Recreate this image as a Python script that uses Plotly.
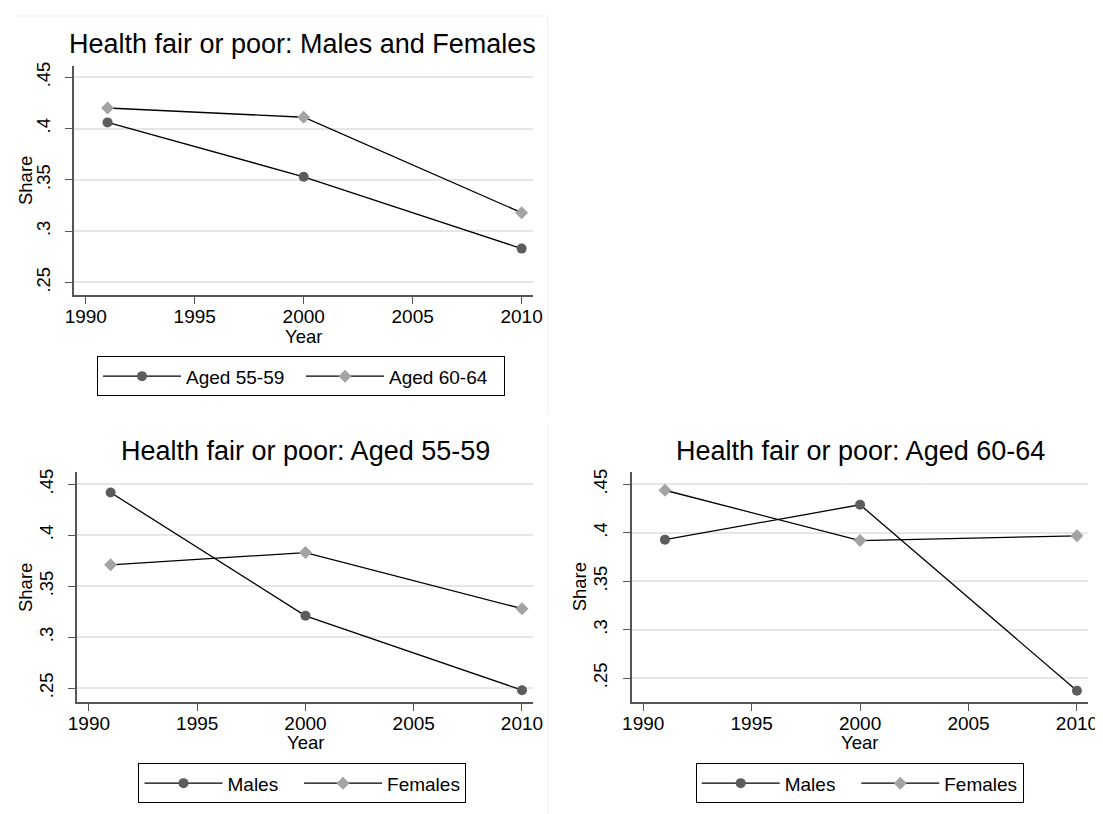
"""Health fair or poor: three-panel combined line chart."""

import plotly.graph_objects as go

YEARS = [1991, 2000, 2010]

# top panel: males and females together, by age group
ALL_AGED_55_59 = [0.406, 0.353, 0.283]
ALL_AGED_60_64 = [0.420, 0.411, 0.318]

# bottom-left panel: aged 55-59, by sex
AGED_55_59_MALES = [0.442, 0.321, 0.248]
AGED_55_59_FEMALES = [0.371, 0.383, 0.328]

# bottom-right panel: aged 60-64, by sex
AGED_60_64_MALES = [0.393, 0.429, 0.237]
AGED_60_64_FEMALES = [0.444, 0.392, 0.397]

X_TICKS = [1990, 1995, 2000, 2005, 2010]
Y_TICKS = [0.25, 0.30, 0.35, 0.40, 0.45]
Y_TICK_LABELS = [".25", ".3", ".35", ".4", ".45"]

W, H = 1103, 814
PAGE_PAD = 8  # the page body adds 8px around the figure
FONT = "Arial, Liberation Sans, sans-serif"
DARK = "#5c5c5c"
LIGHT = "#a3a3a3"
AXIS = "#555555"
GRID = "#e6e6e6"
NBSP = "\u00a0"


def px(x):
    return (x - PAGE_PAD) / W


def py(y):
    return 1 - (y - PAGE_PAD) / H


panels = [
    dict(
        ax="", title="Health fair or poor: Males and Females", legend="legend", entry=110,
        xdom=(66, 533), ydom=(62, 292.5), yrange=(0.2377, 0.4612),
        title_xy=(299, 40.5), share_xy=(16, 177), year_xy=(300, 334), legend_xy=(297, 354),
        series=[("Aged 55-59", ALL_AGED_55_59, "circle", DARK),
                ("Aged 60-64", ALL_AGED_60_64, "diamond", LIGHT)],
    ),
    dict(
        ax="2", title="Health fair or poor: Aged 55-59", legend="legend2", entry=0,
        xdom=(69.3, 533.3), ydom=(470.7, 701.5), yrange=(0.2363, 0.4617),
        title_xy=(302, 449), share_xy=(16, 586), year_xy=(301.5, 742), legend_xy=(298.5, 763),
        series=[("Males" + NBSP * 3, AGED_55_59_MALES, "circle", DARK),
                ("Females", AGED_55_59_FEMALES, "diamond", LIGHT)],
    ),
    dict(
        ax="3", title="Health fair or poor: Aged 60-64", legend="legend3", entry=0,
        xdom=(633.3, 1098), ydom=(470.7, 701.5), yrange=(0.2253, 0.4624),
        title_xy=(866, 449), share_xy=(580, 586), year_xy=(865.5, 742), legend_xy=(865.5, 763),
        series=[("Males" + NBSP * 3, AGED_60_64_MALES, "circle", DARK),
                ("Females", AGED_60_64_FEMALES, "diamond", LIGHT)],
    ),
]

fig = go.Figure()
layout = dict(
    width=W,
    height=H,
    margin=dict(l=0, r=0, t=0, b=0),
    paper_bgcolor="white",
    plot_bgcolor="white",
    font=dict(family=FONT, color="black", size=19),
    showlegend=True,
    annotations=[],
    shapes=[],
)

for p in panels:
    xa, ya = "x" + p["ax"], "y" + p["ax"]
    for name, values, symbol, color in p["series"]:
        fig.add_trace(
            go.Scatter(
                x=YEARS,
                y=values,
                name=name,
                mode="lines+markers",
                line=dict(color="black", width=1.3),
                marker=dict(symbol=symbol, size=10, color=color, line=dict(width=0)),
                xaxis=xa,
                yaxis=ya,
                legend=p["legend"],
            )
        )

    layout["xaxis" + p["ax"]] = dict(
        domain=[px(p["xdom"][0]), px(p["xdom"][1])],
        anchor=ya,
        range=[1989.46, 2010.52],
        tickvals=X_TICKS,
        ticks="outside",
        ticklen=7,
        tickwidth=1.3,
        tickcolor=AXIS,
        ticklabelstandoff=-4,
        showline=True,
        linecolor=AXIS,
        linewidth=1.5,
        showgrid=False,
        zeroline=False,
        tickfont=dict(size=19),
    )
    layout["yaxis" + p["ax"]] = dict(
        domain=[py(p["ydom"][1]), py(p["ydom"][0])],
        anchor=xa,
        range=list(p["yrange"]),
        tickvals=Y_TICKS,
        ticktext=Y_TICK_LABELS,
        tickangle=-90,
        ticks="outside",
        ticklen=7,
        tickwidth=1.3,
        tickcolor=AXIS,
        ticklabelstandoff=8,
        showline=True,
        linecolor=AXIS,
        linewidth=1.5,
        showgrid=True,
        gridcolor=GRID,
        gridwidth=1.5,
        zeroline=False,
        tickfont=dict(size=18.5),
    )
    layout[p["legend"]] = dict(
        x=px(p["legend_xy"][0]),
        y=py(p["legend_xy"][1]),
        xanchor="center",
        yanchor="top",
        orientation="h",
        bordercolor="black",
        borderwidth=1,
        bgcolor="white",
        font=dict(size=19),
        itemwidth=78,
        entrywidth=p["entry"],
    )

    layout["annotations"] += [
        dict(text=p["title"], x=px(p["title_xy"][0]), y=py(p["title_xy"][1]),
             xref="paper", yref="paper", showarrow=False, xanchor="center", yanchor="middle",
             font=dict(size=27)),
        dict(text="Share", x=px(p["share_xy"][0]), y=py(p["share_xy"][1]),
             xref="paper", yref="paper", showarrow=False, textangle=-90,
             xanchor="center", yanchor="middle", font=dict(size=18.5)),
        dict(text="Year", x=px(p["year_xy"][0]), y=py(p["year_xy"][1]),
             xref="paper", yref="paper", showarrow=False,
             xanchor="center", yanchor="middle", font=dict(size=18.5)),
    ]

# faint outlines of the combined sub-graphs
for x0, y0, x1, y1 in [(8, 12, 548, 12), (548, 12, 548, 413), (548, 422, 548, 814)]:
    layout["shapes"].append(
        dict(type="line", xref="paper", yref="paper", x0=px(x0), y0=py(y0), x1=px(x1), y1=py(y1),
             line=dict(color="#eeeeee", width=1))
    )

fig.update_layout(**layout)
fig.write_html("out.html")
